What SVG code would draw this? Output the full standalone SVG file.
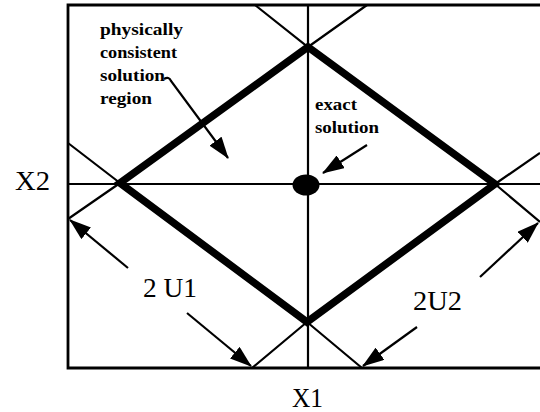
<svg xmlns="http://www.w3.org/2000/svg" width="540" height="412" viewBox="0 0 540 412">
  <style>
    .thin { stroke: #000; stroke-width: 2.2; fill: none; }
    .frame { stroke: #000; stroke-width: 2.8; fill: none; }
    .thick { stroke: #000; stroke-width: 7.5; fill: none; stroke-linejoin: miter; }
    .arr { stroke: #000; stroke-width: 2.2; fill: none; marker-end: url(#ah); }
    .lbl { font-family: "Liberation Serif", "Times New Roman", serif; fill: #000; }
    .small { font-size: 17px; font-weight: bold; }
    .big { font-size: 27px; }
  </style>
  <defs>
    <marker id="ah" markerUnits="userSpaceOnUse" markerWidth="22" markerHeight="15" refX="21" refY="7.5" orient="auto">
      <path d="M0,0 L22,7.5 L0,15 Z" fill="#000"/>
    </marker>
  </defs>

  <g id="frame">
    <polyline class="frame" points="540,5 68,5 68,368 540,368"/>
    <line class="thin" x1="308" y1="5" x2="308" y2="368"/>
    <line class="thin" x1="68" y1="184" x2="540" y2="184"/>
  </g>

  <g id="constraint-lines">
    <polyline class="thin" points="255,5 308,47 495,184 540,222"/>
    <polyline class="thin" points="367,5 308,47 120,183 68,219"/>
    <polyline class="thin" points="68,143 120,183 307,322 362,368"/>
    <polyline class="thin" points="252,368 307,322 495,184 540,153"/>
  </g>

  <g id="region">
    <polygon class="thick" points="308,47 495,184 307,322 120,183"/>
  </g>

  <g id="exact-solution">
    <ellipse cx="306" cy="185" rx="13.5" ry="10.5" fill="#000"/>
  </g>

  <g id="connectors">
    <path class="arr" d="M164,79 Q169,76 171,81 L228,158"/>
    <line class="arr" x1="367" y1="145" x2="323" y2="173"/>
    <line class="arr" x1="128" y1="268" x2="70" y2="220"/>
    <line class="arr" x1="187" y1="313" x2="251" y2="366"/>
    <line class="arr" x1="480" y1="277" x2="538" y2="223"/>
    <line class="arr" x1="417" y1="327" x2="363" y2="366"/>
  </g>

  <g id="labels">
    <text class="lbl small" x="100" y="35" textLength="83" lengthAdjust="spacingAndGlyphs">physically</text>
    <text class="lbl small" x="100" y="58" textLength="77" lengthAdjust="spacingAndGlyphs">consistent</text>
    <text class="lbl small" x="100" y="81" textLength="65" lengthAdjust="spacingAndGlyphs">solution</text>
    <text class="lbl small" x="100" y="104" textLength="52" lengthAdjust="spacingAndGlyphs">region</text>
    <text class="lbl" style="font-size:17px;font-weight:bold" x="315" y="110" textLength="42" lengthAdjust="spacingAndGlyphs">exact</text>
    <text class="lbl" style="font-size:17px;font-weight:bold" x="315" y="133" textLength="64" lengthAdjust="spacingAndGlyphs">solution</text>
    <text class="lbl big" x="15" y="190" textLength="35" lengthAdjust="spacingAndGlyphs">X2</text>
    <text class="lbl big" x="292" y="407" textLength="31" lengthAdjust="spacingAndGlyphs">X1</text>
    <text class="lbl big" x="143" y="297" textLength="54" lengthAdjust="spacingAndGlyphs">2 U1</text>
    <text class="lbl big" x="413" y="310" textLength="49" lengthAdjust="spacingAndGlyphs">2U2</text>
  </g>
</svg>
